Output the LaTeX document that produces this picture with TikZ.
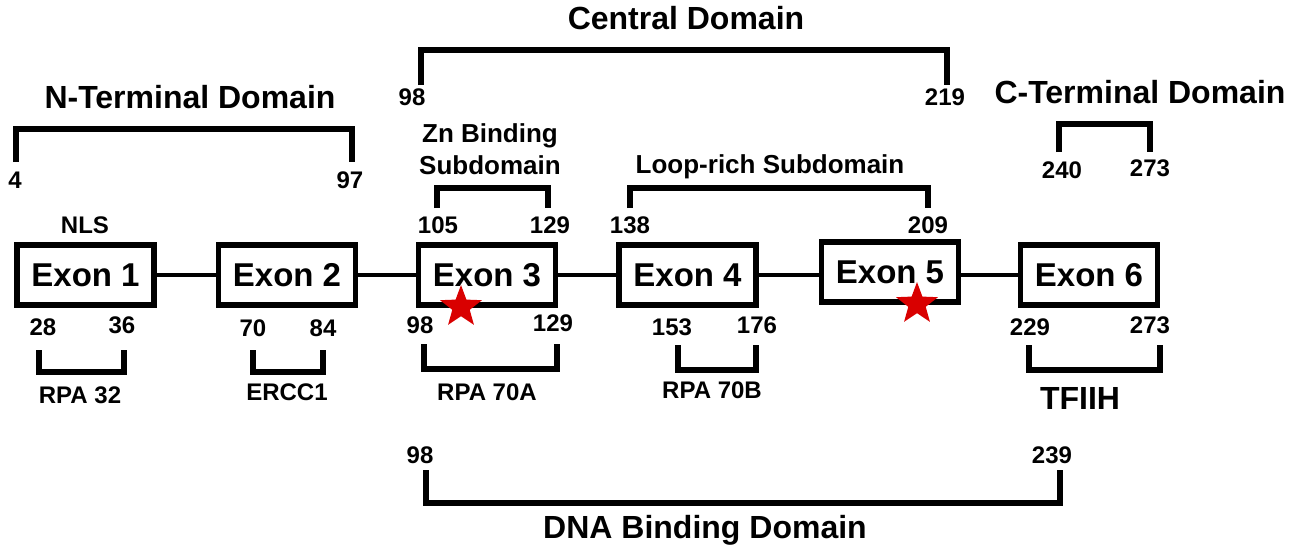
\documentclass[tikz,border=0pt]{standalone}
\usepackage{fontspec}
\setmainfont{Liberation Sans}
\usetikzlibrary{shapes.geometric}
\begin{document}
\begin{tikzpicture}[x=0.5pt,y=-0.5pt,
  exon/.style={draw, line width=2.8pt, minimum width=68.5pt, minimum height=30pt, inner sep=0pt,
    font=\fontsize{16.5}{18}\selectfont\bfseries},
  big/.style={font=\fontsize{16}{18}\selectfont\bfseries, inner sep=0pt},
  mid/.style={font=\fontsize{13}{16}\selectfont\bfseries, inner sep=0pt, align=center},
  num/.style={font=\fontsize{12}{14}\selectfont\bfseries, inner sep=0pt},
  brk/.style={line width=2.6pt, line join=miter},
  link/.style={line width=2.2pt},
  redstar/.style={star, star points=5, star point ratio=2.4, fill=red!85!black, draw=none,
    minimum size=22pt, inner sep=0pt}
]
\useasboundingbox (0,0) rectangle (1301,557);

% exons
\node[exon] (e1) at (85.5,275) {Exon 1};
\node[exon] (e2) at (287,275) {Exon 2};
\node[exon] (e3) at (487,275) {Exon 3};
\node[exon] (e4) at (687.5,275) {Exon 4};
\node[exon] (e5) at (890,272) {Exon 5};
\node[exon] (e6) at (1089,275) {Exon 6};
\draw[link] (e1) -- (e2);
\draw[link] (e2) -- (e3);
\draw[link] (e3) -- (e4);
\draw[link] (e4.east) -- (e5.west |- e4.east);
\draw[link] (e5.east |- e6.west) -- (e6);

\node[redstar] (s1) at (461,307) {};
\node[redstar] (s2) at (917,304) {};

% titles
\node[big] (tN) at (190,97) {N-Terminal Domain};
\node[big] (tC) at (686,18) {Central Domain};
\node[big] (tCT) at (1140,92) {C-Terminal Domain};
\node[mid] (tZn) at (490,149) {Zn Binding\\Subdomain};
\node[mid] (tL) at (770,167) {Loop-rich Subdomain};
\node[num] (nls) at (85,225) {NLS};
\node[big] (tDNA) at (705,530) {DNA Binding Domain};

% N-terminal
\node[num] (n4) at (15,180) {4};
\node[num] (n97) at (350,180) {97};
\coordinate (a1) at (16,162); \coordinate (a2) at (352,162); \coordinate (ay) at (0,129);
\draw[brk] (a1) |- (a1 |- ay) -- (a2 |- ay) -- (a2);

% Central
\node[num] (c98) at (412,97) {98};
\node[num] (c219) at (945,97) {219};
\coordinate (b1) at (421,85); \coordinate (b2) at (947,85); \coordinate (by) at (0,50);
\draw[brk] (b1) -- (b1 |- by) -- (b2 |- by) -- (b2);

% C-terminal
\node[num] (t240) at (1062,170) {240};
\node[num] (t273) at (1150,168) {273};
\coordinate (c1) at (1059,152); \coordinate (c2) at (1150,152); \coordinate (cy) at (0,124);
\draw[brk] (c1) -- (c1 |- cy) -- (c2 |- cy) -- (c2);

% Zn
\node[num] (z105) at (438,225) {105};
\node[num] (z129) at (550,225) {129};
\coordinate (d1) at (437,208); \coordinate (d2) at (548,208); \coordinate (dy) at (0,188);
\draw[brk] (d1) -- (d1 |- dy) -- (d2 |- dy) -- (d2);

% Loop-rich
\node[num] (l138) at (630,225) {138};
\node[num] (l209) at (928,225) {209};
\coordinate (f1) at (630,208); \coordinate (f2) at (928,208); \coordinate (fy) at (0,188);
\draw[brk] (f1) -- (f1 |- fy) -- (f2 |- fy) -- (f2);

% RPA 32
\node[num] (r28) at (43,327) {28};
\node[num] (r36) at (122,325) {36};
\coordinate (g1) at (39,350); \coordinate (g2) at (124,350); \coordinate (gy) at (0,372);
\draw[brk] (g1) -- (g1 |- gy) -- (g2 |- gy) -- (g2);
\node[num] (rpa32) at (80,395) {RPA 32};

% ERCC1
\node[num] (r70) at (253,328) {70};
\node[num] (r84) at (323,328) {84};
\coordinate (h1) at (253,350); \coordinate (h2) at (323,350); \coordinate (hy) at (0,372);
\draw[brk] (h1) -- (h1 |- hy) -- (h2 |- hy) -- (h2);
\node[num] (ercc) at (287,392) {ERCC1};

% RPA 70A
\node[num] (r98) at (420,325) {98};
\node[num] (r129) at (553,323) {129};
\coordinate (i1) at (424,344); \coordinate (i2) at (557,344); \coordinate (iy) at (0,369);
\draw[brk] (i1) -- (i1 |- iy) -- (i2 |- iy) -- (i2);
\node[num] (rpa70a) at (487,392) {RPA 70A};

% RPA 70B
\node[num] (r153) at (672,327) {153};
\node[num] (r176) at (757,325) {176};
\coordinate (j1) at (678,345); \coordinate (j2) at (756,345); \coordinate (jy) at (0,370);
\draw[brk] (j1) -- (j1 |- jy) -- (j2 |- jy) -- (j2);
\node[num] (rpa70b) at (712,390) {RPA 70B};

% TFIIH
\node[num] (r229) at (1030,327) {229};
\node[num] (r273) at (1150,325) {273};
\coordinate (k1) at (1029,345); \coordinate (k2) at (1160,345); \coordinate (ky) at (0,370);
\draw[brk] (k1) -- (k1 |- ky) -- (k2 |- ky) -- (k2);
\node[big] (tf) at (1080,398) {TFIIH};

% DNA binding
\node[num] (d98) at (420,455) {98};
\node[num] (d239) at (1052,455) {239};
\coordinate (m1) at (426,470); \coordinate (m2) at (1060,470); \coordinate (my) at (0,503);
\draw[brk] (m1) -- (m1 |- my) -- (m2 |- my) -- (m2);
\end{tikzpicture}
\end{document}
